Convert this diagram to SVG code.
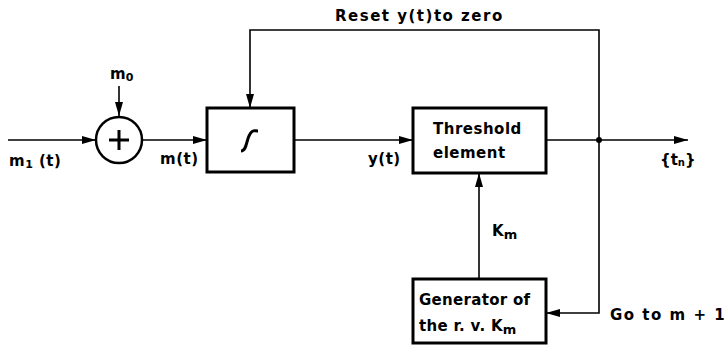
<svg xmlns="http://www.w3.org/2000/svg" width="725" height="345" viewBox="0 0 725 345">
<defs>
<marker id="ah" viewBox="0 0 14 8" refX="14" refY="4" markerWidth="14" markerHeight="8" markerUnits="userSpaceOnUse" orient="auto"><path d="M0,0 L14,4 L0,8 Z" fill="#000"/></marker>
</defs>
<style>
.box{fill:#fff;stroke:#000;stroke-width:3}
.ln{fill:none;stroke:#000;stroke-width:1.6}
text{font-family:"DejaVu Sans","Liberation Sans",sans-serif;font-weight:bold;font-size:15px;fill:#000}
</style>
<rect width="725" height="345" fill="#fff"/>
<g id="connectors">
<line class="ln" x1="8" y1="140" x2="96" y2="140" marker-end="url(#ah)"/>
<line class="ln" x1="119" y1="86" x2="119" y2="116" marker-end="url(#ah)"/>
<line class="ln" x1="142" y1="140" x2="207" y2="140" marker-end="url(#ah)"/>
<line class="ln" x1="294" y1="140" x2="413" y2="140" marker-end="url(#ah)"/>
<line class="ln" x1="546" y1="140" x2="688" y2="140" marker-end="url(#ah)"/>
<polyline class="ln" points="599,140 599,30 250,30 250,108" marker-end="url(#ah)"/>
<polyline class="ln" points="599,140 599,313 546,313" marker-end="url(#ah)"/>
<line class="ln" x1="479" y1="279" x2="479" y2="173" marker-end="url(#ah)"/>
<circle cx="599" cy="140" r="3" fill="#000"/>
</g>
<g id="sum">
<circle cx="119" cy="140" r="23" fill="#fff" stroke="#000" stroke-width="2.5"/>
<path d="M109,140 H129 M119,130 V150" stroke="#000" stroke-width="3" fill="none"/>
</g>
<g id="integrator">
<rect class="box" x="207" y="108" width="87" height="64"/>
<path d="M241,151 C247,151 246,140 250,134 C253,129 255,131 258,131" fill="none" stroke="#000" stroke-width="3"/>
</g>
<g id="threshold">
<rect class="box" x="413" y="108" width="133" height="65"/>
<text x="433" y="134" letter-spacing="0.5">Threshold</text>
<text x="433" y="158" letter-spacing="0.5">element</text>
</g>
<g id="generator">
<rect class="box" x="413" y="279" width="133" height="64"/>
<text x="419" y="305" letter-spacing="0.3">Generator of</text>
<text x="419" y="331" letter-spacing="0.3">the r. v. K<tspan font-size="13" dy="3">m</tspan></text>
</g>
<g id="labels">
<text x="110" y="79">m<tspan font-size="11" dy="2">0</tspan></text>
<text x="9" y="166" letter-spacing="0.5">m<tspan font-size="11" dy="2">1</tspan><tspan dy="-2"> (t)</tspan></text>
<text x="160" y="164" letter-spacing="0.5">m(t)</text>
<text x="368" y="164" letter-spacing="0.5">y(t)</text>
<text x="335" y="21" letter-spacing="1.5">Reset  y(t)to zero</text>
<text x="660" y="165">{t<tspan font-size="10" dy="1">n</tspan><tspan dy="-1">}</tspan></text>
<text x="492" y="236">K<tspan font-size="13" dy="3">m</tspan></text>
<text x="610" y="320" letter-spacing="1.5">Go  to  m + 1</text>
</g>
</svg>
